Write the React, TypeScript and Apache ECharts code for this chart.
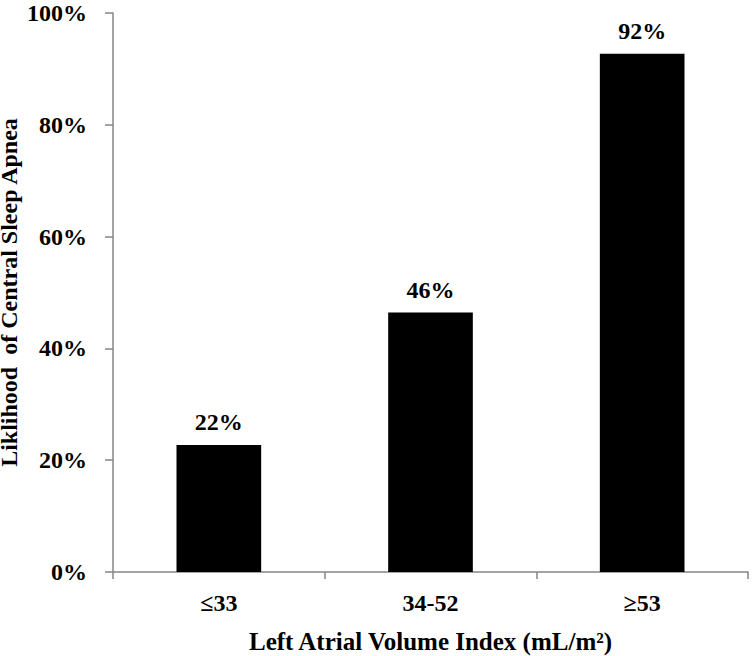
import React, { useEffect, useRef } from "react";
import * as echarts from "echarts";

const categories = ["≤33", "34-52", "≥53"];
const likelihood = [22.7, 46.4, 92.7];
const barLabels = ["22%", "46%", "92%"];
const yTicks = { min: 0, max: 100, interval: 20 };

const FONT = "Liberation Serif";
const AXIS_COLOR = "#868686";

export default function App() {
  const ref = useRef<HTMLDivElement>(null);
  useEffect(() => {
    if (!ref.current) return;
    const chart = echarts.init(ref.current, null, { renderer: "svg" });
    chart.setOption({
      animation: false,
      backgroundColor: "#ffffff",
      textStyle: { fontFamily: FONT },
      grid: {
        left: 113,
        top: 13,
        right: 4,
        bottom: 84,
        containLabel: false,
        outerBoundsMode: "none",
      },
      xAxis: {
        type: "category",
        data: categories,
        name: "Left Atrial Volume Index (mL/m²)",
        nameLocation: "middle",
        nameGap: 57,
        nameMoveOverlap: false,
        nameTextStyle: { fontFamily: FONT, fontWeight: "bold", fontSize: 25, color: "#000" },
        axisLine: { lineStyle: { color: AXIS_COLOR, width: 1.5 } },
        axisTick: { show: true, length: 7, alignWithLabel: false, lineStyle: { color: AXIS_COLOR, width: 1.5 } },
        axisLabel: { fontFamily: FONT, fontWeight: "bold", fontSize: 24, color: "#000", margin: 19 },
      },
      yAxis: {
        type: "value",
        min: yTicks.min,
        max: yTicks.max,
        interval: yTicks.interval,
        name: "Liklihood  of Central Sleep Apnea",
        nameLocation: "middle",
        nameGap: 92,
        nameMoveOverlap: false,
        nameTextStyle: { fontFamily: FONT, fontWeight: "bold", fontSize: 24, color: "#000" },
        splitLine: { show: false },
        axisLine: { show: true, lineStyle: { color: AXIS_COLOR, width: 1.5 } },
        axisTick: { show: true, length: 8, lineStyle: { color: AXIS_COLOR, width: 1.5 } },
        axisLabel: {
          fontFamily: FONT,
          fontWeight: "bold",
          fontSize: 24,
          color: "#000",
          margin: 26,
          formatter: "{value}%",
        },
      },
      series: [
        {
          type: "bar",
          data: likelihood,
          barWidth: "40%",
          itemStyle: { color: "#000" },
          label: {
            show: true,
            position: "top",
            distance: 11,
            fontFamily: FONT,
            fontWeight: "bold",
            fontSize: 24,
            color: "#000",
            formatter: (p: any) => barLabels[p.dataIndex],
          },
        },
      ],
    });
    return () => chart.dispose();
  }, []);
  return (
    <div
      ref={ref}
      style={{ position: "fixed", left: 0, top: 0, width: 752, height: 656 }}
    />
  );
}
